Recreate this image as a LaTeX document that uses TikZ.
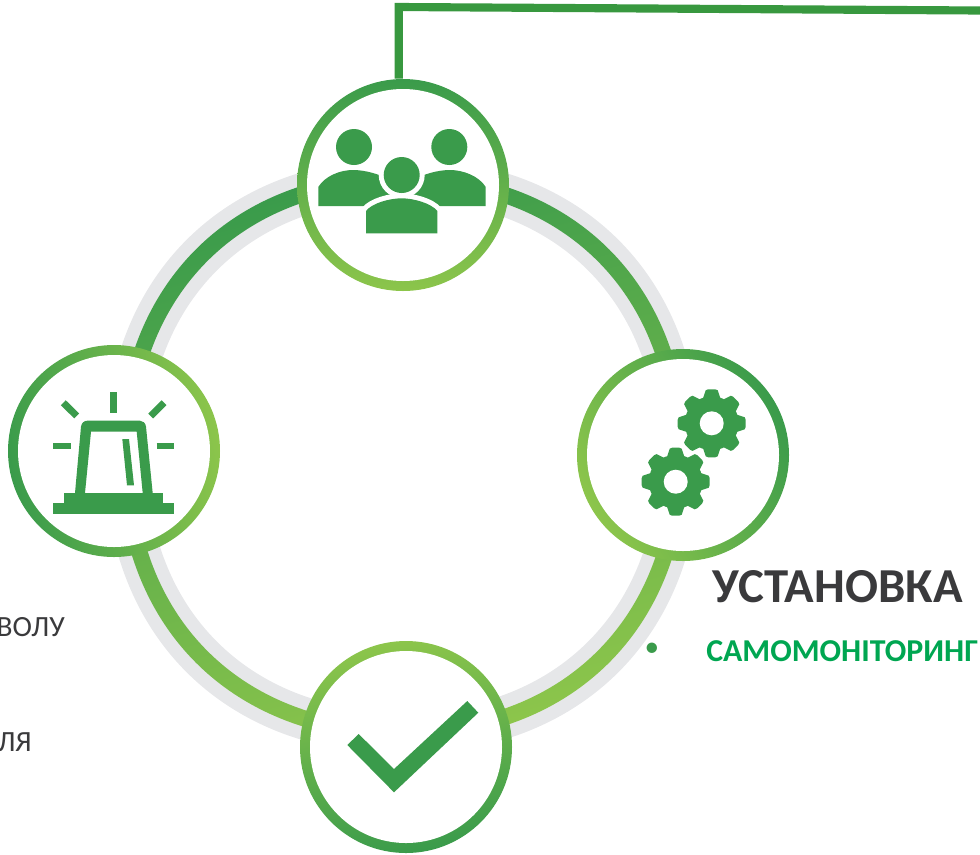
\documentclass[tikz,border=0pt]{standalone}
\usepackage{fontspec}
\setmainfont{Carlito}
\definecolor{iconGreen}{HTML}{3A9B4B}
\definecolor{ringDark}{HTML}{3A9B4B}
\definecolor{ringLight}{HTML}{8CC54B}
\definecolor{ringGray}{HTML}{E6E7E9}
\definecolor{lineGreen}{HTML}{38983F}
\definecolor{titleGray}{HTML}{3A3A3C}
\definecolor{labelGreen}{HTML}{00A651}
\tikzset{
    ringnode/.style={circle,minimum size=159pt,inner sep=0pt,
        top color=ringDark,bottom color=ringLight,shading angle=#1,
        path picture={\fill[white] (path picture bounding box.center) circle (96);}},
    raystroke/.style={draw=iconGreen,line width=5.2pt}
}
\newcommand{\gearicon}[2]{
    \fill[iconGreen] (#1,#2) circle (27);
    \foreach \a in {0,45,...,315}
        \fill[iconGreen,shift={(#1,#2)},rotate=\a] (24,-9) -- (33,-6) -- (34,-3.5) -- (34,3.5) -- (33,6) -- (24,9) -- cycle;
    \fill[white] (#1,#2) circle (12);
}
\newcommand{\ringpath}[1]{
    (0,-#1) .. controls ({0.6*#1},-#1) and (#1,{-0.6*#1}) .. (#1,0)
    .. controls (#1,{0.6*#1}) and ({0.6*#1},#1) .. (0,#1)
    .. controls ({-0.6*#1},#1) and (-#1,{0.6*#1}) .. (-#1,0)
    .. controls (-#1,{-0.6*#1}) and ({-0.6*#1},-#1) .. (0,-#1) -- cycle
}
\begin{document}
\begin{tikzpicture}[x=0.75pt,y=-0.75pt]
    \useasboundingbox (0,0) rectangle (980,854);

    \coordinate (ringcenter) at (402.5,456);
    \fill[ringGray,even odd rule,shift={(ringcenter)}] \ringpath{298} \ringpath{256};
    \shade[top color=ringDark,bottom color=ringLight,shading angle=15,even odd rule,shift={(ringcenter)}]
        \ringpath{285} \ringpath{269};

    \node[ringnode=0] (people) at (403,185) {};
    \node[ringnode=100] (alarm) at (114,451) {};
    \node[ringnode=-60] (gears) at (683,455) {};
    \node[ringnode=-170] (check) at (406,747) {};

    \coordinate (linecorner) at (398.8,7);
    \coordinate (lineend) at (980,10.5);
    \draw[lineGreen,line width=6.1pt] ([xshift=-3.2pt]people.north) -- (linecorner) -- (lineend);

    % people
    \fill[iconGreen] (354,147) circle (18);
    \fill[iconGreen] (449.3,147) circle (18);
    \fill[iconGreen] (318.3,206) -- (318.3,187) .. controls (325,176) and (340,170) .. (353,170)
        .. controls (365,170) and (380,174) .. (395,182) -- (395,206) -- cycle;
    \fill[iconGreen] (485.7,206) -- (485.7,187) .. controls (479,176) and (463,170) .. (450,170)
        .. controls (438,170) and (423,174) .. (408,182) -- (408,206) -- cycle;
    \fill[white] (401.7,175) circle (23);
    \draw[white,line width=7.5pt,fill=iconGreen] (366,233.3) -- (366,211) .. controls (372,203) and (390,198.3) .. (401.7,198.3)
        .. controls (413,198.3) and (431,203) .. (437.3,211) -- (437.3,233.3) -- cycle;
    \fill[white] (355,233.8) rectangle (450,245);
    \fill[iconGreen] (401.7,175) circle (18);
    \fill[iconGreen] (366,233.3) -- (366,211) .. controls (372,203) and (390,198.3) .. (401.7,198.3)
        .. controls (413,198.3) and (431,203) .. (437.3,211) -- (437.3,233.3) -- cycle;

    % alarm
    \fill[iconGreen] (64,492.7) rectangle (163.3,503.5);
    \fill[iconGreen] (53.3,503.3) rectangle (174.3,514);
    \fill[iconGreen,even odd rule] (75,493) -- (81,426.7) .. controls (81.5,423) and (84,420.7) .. (87.3,420.7)
        -- (140,420.7) .. controls (143,420.7) and (145.5,423) .. (146,426.7) -- (152.7,493) -- cycle
        (85,493) -- (91,431.7) -- (136.7,431.7) -- (142.7,493) -- cycle;
    \fill[iconGreen] (122.3,439) -- (129,439) -- (134,485.3) -- (127,485.3) -- cycle;
    \draw[raystroke] (113.7,392.3) -- (113.7,413.3);
    \draw[raystroke] (53.3,446) -- (71,446);
    \draw[raystroke] (156.7,446) -- (174.3,446);
    \draw[raystroke] (63.3,402.7) -- (76.7,416);
    \draw[raystroke] (164,402.7) -- (150.7,416);

    % gears
    \gearicon{711.7}{423.3}
    \gearicon{675.7}{481.7}

    % check
    \fill[iconGreen] (347.3,745) -- (358.7,734) -- (394,769) -- (467.3,701) -- (478.3,712.7) -- (394,792.3) -- cycle;

    \node[anchor=base west,text=titleGray,font=\fontsize{36.6pt}{44pt}\selectfont\bfseries,inner sep=0pt] (title) at (712.5,602.7) {УСТАНОВКА};
    \node[anchor=base west,text=labelGreen,font=\fontsize{23.9pt}{28pt}\selectfont\bfseries,inner sep=0pt] (selfmon) at (706,661) {САМОМОНІТОРИНГ};
    \node[text=iconGreen,font=\fontsize{22pt}{26pt}\selectfont,inner sep=0pt] (bulletmark) at (652,650) {•};
    \node[anchor=base east,text=titleGray,font=\fontsize{22pt}{26pt}\selectfont,inner sep=0pt] (leftone) at (65,636.7) {ВОЛУ};
    \node[anchor=base east,text=titleGray,font=\fontsize{22pt}{26pt}\selectfont,inner sep=0pt] (lefttwo) at (32,751.7) {ЛЯ};
\end{tikzpicture}
\end{document}
